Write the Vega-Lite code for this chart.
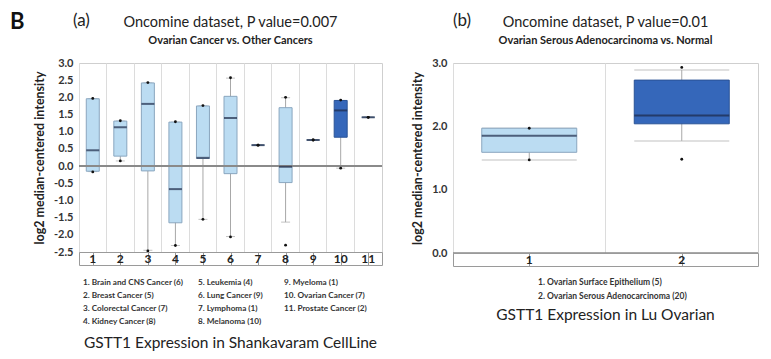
{
  "$schema": "https://vega.github.io/schema/vega-lite/v6.json",
  "background": "white",
  "padding": {"left": 10, "top": 11, "right": 5, "bottom": 5},
  "config": {
    "font": "Lato",
    "view": {"stroke": "#cfcfcf"},
    "title": {"color": "#222"},
    "axis": {"labelColor": "#333", "titleColor": "#222"},
    "axisY": {"labelOverlap": false}
  },
  "title": {"text": "B", "orient": "left", "anchor": "end", "angle": 0, "fontSize": 22, "fontWeight": "bold", "offset": -6, "color": "#111"},
  "datasets": {
    "a": [
      {"num": 1, "label": "1. Brain and CNS Cancer (6)", "class": "other", "min": -0.17, "p10": -0.16, "q1": -0.15, "med": 0.46, "q3": 1.96, "p90": 1.96, "max": 1.97},
      {"num": 2, "label": "2. Breast Cancer (5)", "class": "other", "min": 0.15, "p10": 0.15, "q1": 0.29, "med": 1.13, "q3": 1.31, "p90": 1.31, "max": 1.32},
      {"num": 3, "label": "3. Colorectal Cancer (7)", "class": "other", "min": -2.47, "p10": -2.45, "q1": -0.14, "med": 1.81, "q3": 2.42, "p90": 2.42, "max": 2.43},
      {"num": 4, "label": "4. Kidney Cancer (8)", "class": "other", "min": -2.31, "p10": -2.31, "q1": -1.65, "med": -0.67, "q3": 1.28, "p90": 1.28, "max": 1.29},
      {"num": 5, "label": "5. Leukemia (4)", "class": "other", "min": -1.55, "p10": -1.55, "q1": 0.22, "med": 0.24, "q3": 1.75, "p90": 1.75, "max": 1.76},
      {"num": 6, "label": "6. Lung Cancer (9)", "class": "other", "min": -2.06, "p10": -2.05, "q1": -0.22, "med": 1.4, "q3": 2.03, "p90": 2.56, "max": 2.57},
      {"num": 7, "label": "7. Lymphoma (1)", "class": "other", "min": 0.61, "p10": 0.61, "q1": 0.61, "med": 0.61, "q3": 0.61, "p90": 0.61, "max": 0.61},
      {"num": 8, "label": "8. Melanoma (10)", "class": "other", "min": -2.3, "p10": -1.63, "q1": -0.48, "med": -0.02, "q3": 1.7, "p90": 1.99, "max": 2.0},
      {"num": 9, "label": "9. Myeloma (1)", "class": "other", "min": 0.76, "p10": 0.76, "q1": 0.76, "med": 0.76, "q3": 0.76, "p90": 0.76, "max": 0.76},
      {"num": 10, "label": "10. Ovarian Cancer (7)", "class": "target", "min": -0.06, "p10": -0.06, "q1": 0.84, "med": 1.62, "q3": 1.91, "p90": 1.91, "max": 1.92},
      {"num": 11, "label": "11. Prostate Cancer (2)", "class": "other", "min": 1.42, "p10": 1.42, "q1": 1.42, "med": 1.42, "q3": 1.42, "p90": 1.42, "max": 1.42}
    ],
    "b": [
      {"num": 1, "label": "1. Ovarian Surface Epithelium (5)", "class": "other", "min": 1.47, "p10": 1.47, "q1": 1.59, "med": 1.85, "q3": 1.97, "p90": 1.97, "max": 1.97},
      {"num": 2, "label": "2. Ovarian Serous Adenocarcinoma (20)", "class": "target", "min": 1.48, "p10": 1.77, "q1": 2.04, "med": 2.17, "q3": 2.73, "p90": 2.89, "max": 2.93}
    ]
  },
  "spacing": 28,
  "hconcat": [
    {
      "title": {"text": "(a)", "anchor": "start", "frame": "group", "offset": -16, "dx": -6, "fontSize": 17, "fontWeight": "normal", "color": "#222"},
      "spacing": 10,
      "vconcat": [
        {
          "spacing": 0,
          "bounds": "flush",
          "vconcat": [
            {
              "data": {"name": "a"},
              "width": 303,
              "height": 189,
              "title": {"text": "Oncomine dataset, P value=0.007", "subtitle": "Ovarian Cancer vs. Other Cancers", "fontSize": 14.5, "fontWeight": "normal", "subtitleFontSize": 11, "subtitleFontWeight": "bold", "subtitleColor": "#222", "subtitlePadding": 5, "offset": 10, "anchor": "middle"},
              "layer": [
                {
                  "mark": {"type": "rule", "color": "#a8a8a8"},
                  "encoding": {
                    "x": {"field": "num", "type": "ordinal", "scale": {"paddingInner": 0, "paddingOuter": 0}, "axis": {"title": null, "labels": false, "ticks": false, "domain": false, "grid": true, "bandPosition": 0, "gridColor": "#dcdcdc", "minExtent": 0, "maxExtent": 0}},
                    "y": {"field": "p10", "type": "quantitative", "scale": {"domain": [-2.5, 3], "nice": false, "zero": false}, "axis": {"title": "log2 median-centered intensity", "values": [-2.5, -2, -1.5, -1, -0.5, 0, 0.5, 1, 1.5, 2, 2.5, 3], "labelOverlap": false, "format": ".1f", "labelExpr": "replace(datum.label, '\u2212', '-')", "labelFontSize": 11, "labelFontWeight": "bold", "labelPadding": 6, "ticks": false, "domain": false, "grid": false, "titleFontSize": 12.5, "titleFontWeight": "bold", "titlePadding": 7}},
                    "y2": {"field": "p90"}
                  }
                },
                {
                  "mark": {"type": "tick", "color": "#a8a8a8", "size": 9, "thickness": 1},
                  "encoding": {
                    "x": {"field": "num", "type": "ordinal", "axis": {"title": null, "labels": false, "ticks": false, "domain": false, "grid": true, "bandPosition": 0, "gridColor": "#dcdcdc", "minExtent": 0, "maxExtent": 0}},
                    "y": {"field": "p10", "type": "quantitative", "axis": {"title": "log2 median-centered intensity", "values": [-2.5, -2, -1.5, -1, -0.5, 0, 0.5, 1, 1.5, 2, 2.5, 3], "labelOverlap": false, "format": ".1f", "labelExpr": "replace(datum.label, '\u2212', '-')", "labelFontSize": 11, "labelFontWeight": "bold", "labelPadding": 6, "ticks": false, "domain": false, "grid": false, "titleFontSize": 12.5, "titleFontWeight": "bold", "titlePadding": 7}}
                  }
                },
                {
                  "mark": {"type": "tick", "color": "#a8a8a8", "size": 9, "thickness": 1},
                  "encoding": {
                    "x": {"field": "num", "type": "ordinal", "axis": {"title": null, "labels": false, "ticks": false, "domain": false, "grid": true, "bandPosition": 0, "gridColor": "#dcdcdc", "minExtent": 0, "maxExtent": 0}},
                    "y": {"field": "p90", "type": "quantitative", "axis": {"title": "log2 median-centered intensity", "values": [-2.5, -2, -1.5, -1, -0.5, 0, 0.5, 1, 1.5, 2, 2.5, 3], "labelOverlap": false, "format": ".1f", "labelExpr": "replace(datum.label, '\u2212', '-')", "labelFontSize": 11, "labelFontWeight": "bold", "labelPadding": 6, "ticks": false, "domain": false, "grid": false, "titleFontSize": 12.5, "titleFontWeight": "bold", "titlePadding": 7}}
                  }
                },
                {
                  "mark": {"type": "bar", "size": 13, "strokeWidth": 1},
                  "encoding": {
                    "x": {"field": "num", "type": "ordinal", "axis": {"title": null, "labels": false, "ticks": false, "domain": false, "grid": true, "bandPosition": 0, "gridColor": "#dcdcdc", "minExtent": 0, "maxExtent": 0}},
                    "y": {"field": "q1", "type": "quantitative", "axis": {"title": "log2 median-centered intensity", "values": [-2.5, -2, -1.5, -1, -0.5, 0, 0.5, 1, 1.5, 2, 2.5, 3], "labelOverlap": false, "format": ".1f", "labelExpr": "replace(datum.label, '\u2212', '-')", "labelFontSize": 11, "labelFontWeight": "bold", "labelPadding": 6, "ticks": false, "domain": false, "grid": false, "titleFontSize": 12.5, "titleFontWeight": "bold", "titlePadding": 7}},
                    "y2": {"field": "q3"},
                    "fill": {"field": "class", "type": "nominal", "scale": {"domain": ["other", "target"], "range": ["#BBDCF2", "#3567BA"]}, "legend": null},
                    "stroke": {"field": "class", "type": "nominal", "scale": {"domain": ["other", "target"], "range": ["#8aa6bf", "#2a5396"]}, "legend": null}
                  }
                },
                {
                  "mark": {"type": "rule", "color": "#8a8a8a"},
                  "encoding": {"y": {"datum": 0, "type": "quantitative", "axis": {"title": "log2 median-centered intensity", "values": [-2.5, -2, -1.5, -1, -0.5, 0, 0.5, 1, 1.5, 2, 2.5, 3], "labelOverlap": false, "format": ".1f", "labelExpr": "replace(datum.label, '\u2212', '-')", "labelFontSize": 11, "labelFontWeight": "bold", "labelPadding": 6, "ticks": false, "domain": false, "grid": false, "titleFontSize": 12.5, "titleFontWeight": "bold", "titlePadding": 7}}}
                },
                {
                  "mark": {"type": "tick", "color": "#1c2a48", "size": 13, "thickness": 2},
                  "encoding": {
                    "x": {"field": "num", "type": "ordinal", "axis": {"title": null, "labels": false, "ticks": false, "domain": false, "grid": true, "bandPosition": 0, "gridColor": "#dcdcdc", "minExtent": 0, "maxExtent": 0}},
                    "y": {"field": "med", "type": "quantitative", "axis": {"title": "log2 median-centered intensity", "values": [-2.5, -2, -1.5, -1, -0.5, 0, 0.5, 1, 1.5, 2, 2.5, 3], "labelOverlap": false, "format": ".1f", "labelExpr": "replace(datum.label, '\u2212', '-')", "labelFontSize": 11, "labelFontWeight": "bold", "labelPadding": 6, "ticks": false, "domain": false, "grid": false, "titleFontSize": 12.5, "titleFontWeight": "bold", "titlePadding": 7}}
                  }
                },
                {
                  "mark": {"type": "point", "filled": true, "color": "#111", "size": 8, "opacity": 1},
                  "encoding": {
                    "x": {"field": "num", "type": "ordinal", "axis": {"title": null, "labels": false, "ticks": false, "domain": false, "grid": true, "bandPosition": 0, "gridColor": "#dcdcdc", "minExtent": 0, "maxExtent": 0}},
                    "y": {"field": "min", "type": "quantitative", "axis": {"title": "log2 median-centered intensity", "values": [-2.5, -2, -1.5, -1, -0.5, 0, 0.5, 1, 1.5, 2, 2.5, 3], "labelOverlap": false, "format": ".1f", "labelExpr": "replace(datum.label, '\u2212', '-')", "labelFontSize": 11, "labelFontWeight": "bold", "labelPadding": 6, "ticks": false, "domain": false, "grid": false, "titleFontSize": 12.5, "titleFontWeight": "bold", "titlePadding": 7}}
                  }
                },
                {
                  "mark": {"type": "point", "filled": true, "color": "#111", "size": 8, "opacity": 1},
                  "encoding": {
                    "x": {"field": "num", "type": "ordinal", "axis": {"title": null, "labels": false, "ticks": false, "domain": false, "grid": true, "bandPosition": 0, "gridColor": "#dcdcdc", "minExtent": 0, "maxExtent": 0}},
                    "y": {"field": "max", "type": "quantitative", "axis": {"title": "log2 median-centered intensity", "values": [-2.5, -2, -1.5, -1, -0.5, 0, 0.5, 1, 1.5, 2, 2.5, 3], "labelOverlap": false, "format": ".1f", "labelExpr": "replace(datum.label, '\u2212', '-')", "labelFontSize": 11, "labelFontWeight": "bold", "labelPadding": 6, "ticks": false, "domain": false, "grid": false, "titleFontSize": 12.5, "titleFontWeight": "bold", "titlePadding": 7}}
                  }
                }
              ]
            },
            {
              "data": {"name": "a"},
              "width": 303,
              "height": 13,
              "view": {"stroke": "#9a9a9a"},
              "mark": {"type": "text", "fontSize": 12, "fontWeight": "bold", "color": "#222", "baseline": "middle"},
              "encoding": {
                "x": {"field": "num", "type": "ordinal", "scale": {"paddingInner": 0, "paddingOuter": 0}, "axis": {"title": null, "labels": false, "ticks": false, "domain": false, "grid": true, "bandPosition": 0, "gridColor": "#9a9a9a", "minExtent": 0, "maxExtent": 0}},
                "text": {"field": "num"}
              }
            }
          ]
        },
        {
          "data": {"name": "a"},
          "width": 303,
          "height": 53,
          "view": {"stroke": null},
          "transform": [
            {"calculate": "floor((datum.num - 1) / 4)", "as": "col"},
            {"calculate": "(datum.num - 1) % 4", "as": "row"}
          ],
          "title": {"text": "GSTT1 Expression in Shankavaram CellLine", "orient": "bottom", "fontSize": 15.5, "fontWeight": "normal", "offset": 7, "anchor": "middle"},
          "mark": {"type": "text", "align": "left", "baseline": "middle", "fontSize": 8.2, "fontWeight": "bold", "color": "#333"},
          "encoding": {
            "x": {"field": "col", "type": "quantitative", "scale": {"domain": [0, 1, 2], "range": [4, 119, 205]}, "axis": null},
            "y": {"field": "row", "type": "ordinal", "scale": {"type": "band", "paddingInner": 0, "paddingOuter": 0}, "axis": null},
            "text": {"field": "label"}
          }
        }
      ]
    },
    {
      "title": {"text": "(b)", "anchor": "start", "frame": "group", "offset": -16, "dx": 0, "fontSize": 17, "fontWeight": "normal", "color": "#222"},
      "spacing": 8,
      "vconcat": [
        {
          "spacing": 0,
          "bounds": "flush",
          "vconcat": [
            {
              "data": {"name": "b"},
              "width": 305,
              "height": 190,
              "title": {"text": "Oncomine dataset, P value=0.01", "subtitle": "Ovarian Serous Adenocarcinoma vs. Normal", "fontSize": 14.5, "fontWeight": "normal", "subtitleFontSize": 11, "subtitleFontWeight": "bold", "subtitleColor": "#222", "subtitlePadding": 5, "offset": 10, "anchor": "middle"},
              "layer": [
                {
                  "mark": {"type": "rule", "color": "#a8a8a8"},
                  "encoding": {
                    "x": {"field": "num", "type": "ordinal", "scale": {"paddingInner": 0, "paddingOuter": 0}, "axis": {"title": null, "labels": false, "ticks": false, "domain": false, "grid": true, "bandPosition": 0, "gridColor": "#dcdcdc", "minExtent": 0, "maxExtent": 0}},
                    "y": {"field": "p10", "type": "quantitative", "scale": {"domain": [0, 3], "nice": false, "zero": false}, "axis": {"title": "log2 median-centered intensity", "values": [0, 0.5, 1, 1.5, 2, 2.5, 3], "labelOverlap": false, "format": ".1f", "labelFontSize": 11, "labelFontWeight": "bold", "labelPadding": 6, "ticks": false, "domain": false, "grid": false, "titleFontSize": 12.5, "titleFontWeight": "bold", "titlePadding": 7}},
                    "y2": {"field": "p90"}
                  }
                },
                {
                  "mark": {"type": "tick", "color": "#a8a8a8", "size": 95, "thickness": 1},
                  "encoding": {"x": {"field": "num", "type": "ordinal"}, "y": {"field": "p10", "type": "quantitative"}}
                },
                {
                  "mark": {"type": "tick", "color": "#a8a8a8", "size": 95, "thickness": 1},
                  "encoding": {"x": {"field": "num", "type": "ordinal"}, "y": {"field": "p90", "type": "quantitative"}}
                },
                {
                  "mark": {"type": "bar", "size": 95, "strokeWidth": 1},
                  "encoding": {
                    "x": {"field": "num", "type": "ordinal"},
                    "y": {"field": "q1", "type": "quantitative"},
                    "y2": {"field": "q3"},
                    "fill": {"field": "class", "type": "nominal", "scale": {"domain": ["other", "target"], "range": ["#BBDCF2", "#3567BA"]}, "legend": null},
                    "stroke": {"field": "class", "type": "nominal", "scale": {"domain": ["other", "target"], "range": ["#8aa6bf", "#2a5396"]}, "legend": null}
                  }
                },
                {
                  "mark": {"type": "rule", "color": "#8a8a8a"},
                  "encoding": {"y": {"datum": 0}}
                },
                {
                  "mark": {"type": "tick", "color": "#1c2a48", "size": 95, "thickness": 2},
                  "encoding": {"x": {"field": "num", "type": "ordinal"}, "y": {"field": "med", "type": "quantitative"}}
                },
                {
                  "mark": {"type": "point", "filled": true, "color": "#111", "size": 8, "opacity": 1},
                  "encoding": {"x": {"field": "num", "type": "ordinal"}, "y": {"field": "min", "type": "quantitative"}}
                },
                {
                  "mark": {"type": "point", "filled": true, "color": "#111", "size": 8, "opacity": 1},
                  "encoding": {"x": {"field": "num", "type": "ordinal"}, "y": {"field": "max", "type": "quantitative"}}
                }
              ]
            },
            {
              "data": {"name": "b"},
              "width": 305,
              "height": 13,
              "view": {"stroke": "#9a9a9a"},
              "mark": {"type": "text", "fontSize": 12, "fontWeight": "bold", "color": "#222", "baseline": "middle"},
              "encoding": {
                "x": {"field": "num", "type": "ordinal", "scale": {"paddingInner": 0, "paddingOuter": 0}, "axis": {"title": null, "labels": false, "ticks": false, "domain": false, "grid": true, "bandPosition": 0, "gridColor": "#9a9a9a", "minExtent": 0, "maxExtent": 0}},
                "text": {"field": "num"}
              }
            }
          ]
        },
        {
          "data": {"name": "b"},
          "width": 305,
          "height": 28,
          "view": {"stroke": null},
          "title": {"text": "GSTT1 Expression in Lu Ovarian", "orient": "bottom", "fontSize": 15.5, "fontWeight": "normal", "offset": 5, "anchor": "middle"},
          "mark": {"type": "text", "align": "left", "baseline": "middle", "fontSize": 8.5, "fontWeight": "bold", "color": "#333"},
          "encoding": {
            "x": {"datum": 0, "type": "quantitative", "scale": {"domain": [0, 1], "range": [85, 86]}, "axis": null},
            "y": {"field": "num", "type": "ordinal", "scale": {"type": "band", "paddingInner": 0, "paddingOuter": 0}, "axis": null},
            "text": {"field": "label"}
          }
        }
      ]
    }
  ]
}
